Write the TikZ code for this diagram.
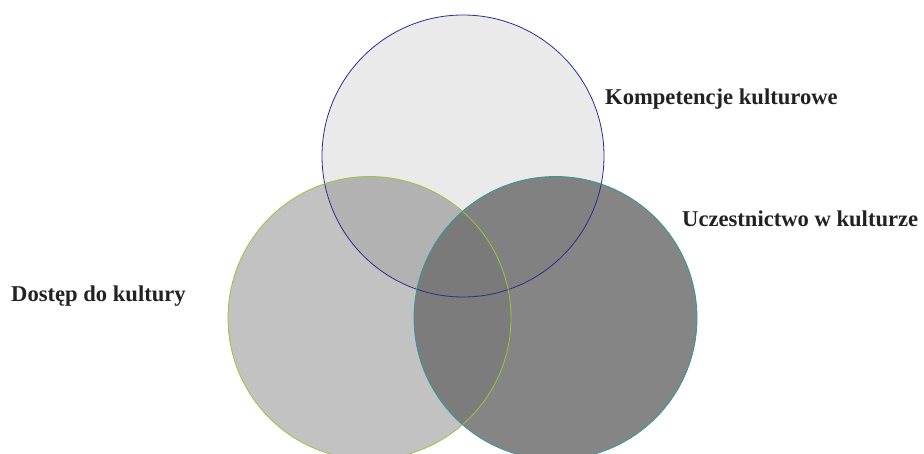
\documentclass[tikz,border=0pt]{standalone}
\usepackage{fontspec}
\setmainfont{Liberation Serif}
\definecolor{topfill}{HTML}{EAEAEA}
\definecolor{leftfill}{HTML}{C2C2C2}
\definecolor{rightfill}{HTML}{737373}
\definecolor{navyline}{HTML}{2B2E8C}
\definecolor{greenline}{HTML}{9CC43C}
\definecolor{tealline}{HTML}{2F9A9B}
\definecolor{labeltext}{HTML}{222222}
\tikzset{
  ring/.style={circle, inner sep=0pt, minimum size=#1},
  lbl/.style={anchor=base west, inner sep=0pt, text=labeltext,
    font=\fontsize{22.6pt}{26pt}\selectfont\bfseries},
  outline/.style={line width=0.8pt}
}
\begin{document}
\begin{tikzpicture}[x=1pt,y=-1pt]
\useasboundingbox (0,0) rectangle (924,454);
% fills
\node[ring=282pt, fill=topfill] (komp) at (463,156) {};
\begin{scope}[blend mode=multiply]
\node[ring=283pt, fill=leftfill] (dost) at (369.5,318) {};
\end{scope}
\node[ring=283pt, fill=rightfill, fill opacity=0.875] (ucz) at (555.5,318) {};
% outlines
\draw[outline, navyline] (komp) circle (141pt);
\draw[outline, greenline] (dost) circle (141.5pt);
\draw[outline, tealline] (ucz) circle (141.5pt);
% labels
\node[lbl] (kompl) at (605,105) {Kompetencje kulturowe};
\node[lbl] (uczl) at (682,226.5) {Uczestnictwo w kulturze};
\node[lbl] (dostl) at (11,302) {Dostęp do kultury};
\end{tikzpicture}
\end{document}
